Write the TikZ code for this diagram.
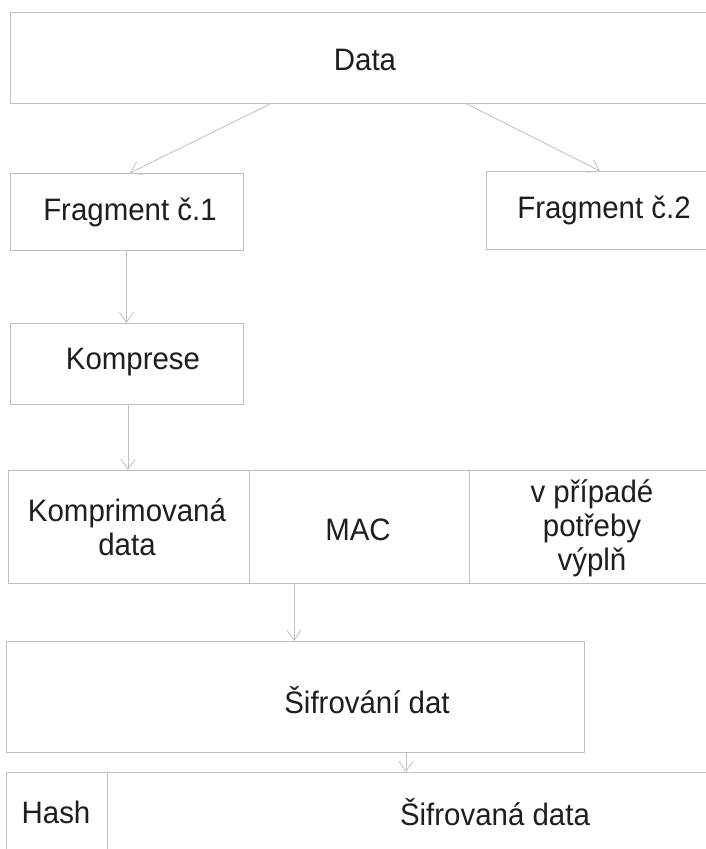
\documentclass[tikz,border=0pt]{standalone}
\usepackage{fontspec}
\setmainfont{Liberation Sans}[FakeStretch=0.95]
\usetikzlibrary{arrows.meta}
\definecolor{linegray}{RGB}{192,192,192}
\definecolor{ink}{RGB}{30,30,30}
\begin{document}
\begin{tikzpicture}[x=1pt,y=-1pt,
  box/.style={draw=linegray,line width=1pt,rectangle,inner sep=0pt,outer sep=0pt},
  txt/.style={text=ink,font=\fontsize{31}{34}\selectfont,align=center,inner sep=0pt},
  arr/.style={draw=linegray,line width=0.8pt,-{Straight Barb[length=10pt,width=14pt]}}]
\useasboundingbox (0,0) rectangle (706,849);
\clip (0,0) rectangle (706,849);
\fill[white] (0,0) rectangle (706,849);
% boxes
\node[box,minimum width=710pt,minimum height=91pt] (data) at (365,57.5) {};
\node[box,minimum width=233pt,minimum height=77pt] (frag1) at (126.5,211.5) {};
\node[box,minimum width=244pt,minimum height=78pt] (frag2) at (608,210) {};
\node[box,minimum width=233pt,minimum height=81pt] (komp) at (126.5,363.5) {};
\node[box,minimum width=241pt,minimum height=113pt] (c1) at (128.5,526.5) {};
\node[box,minimum width=220pt,minimum height=113pt] (c2) at (359,526.5) {};
\node[box,minimum width=261pt,minimum height=113pt] (c3) at (599.5,526.5) {};
\node[box,minimum width=578pt,minimum height=111pt] (sif) at (295,696.5) {};
\node[box,minimum width=101pt,minimum height=88pt] (hash) at (56.5,816) {};
\node[box,minimum width=793pt,minimum height=88pt] (sdata) at (503.5,816) {};
% texts
\node[txt] (tdata) at (365,60) {Data};
\node[txt] (tfrag1) at (130,212) {Fragment č.1};
\node[txt] (tfrag2) at (604,210) {Fragment č.2};
\node[txt] (tkomp) at (133,362) {Komprese};
\node[txt] (tc1) at (127,527) {Komprimovaná\\data};
\node[txt] (tc2) at (358,530) {MAC};
\node[txt] (tc3) at (592,528) {v případé\\potřeby\\výplň};
\node[txt] (tsif) at (367,700) {Šifrování dat};
\node[txt] (thash) at (56,812) {Hash};
\node[txt] (tsdata) at (495,812) {Šifrovaná data};
% connectors
\draw[arr] ([xshift=262pt]data.south west) -- ([xshift=120pt]frag1.north west);
\draw[arr] ([xshift=455pt]data.south west) -- ([xshift=114pt]frag2.north west);
\draw[arr] (frag1.south) -- (komp.north);
\draw[arr] ([xshift=118pt]komp.south west) -- ([xshift=120pt]c1.north west);
\draw[arr] ([xshift=45pt]c2.south west) -- ([xshift=288pt]sif.north west);
\draw[arr] ([xshift=400pt]sif.south west) -- ([xshift=299pt]sdata.north west);
\end{tikzpicture}
\end{document}
